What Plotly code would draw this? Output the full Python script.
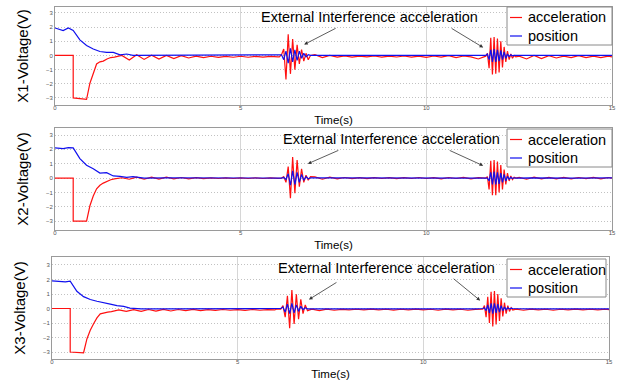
import plotly.graph_objects as go

# ---------------- time segments (s) ----------------
t_acc_start = [0, 0.49, 0.49, 0.85, 0.94, 1.03, 1.12, 1.21, 1.3, 1.4, 1.5, 1.6]
t_quiet1 = [1.8, 2.0, 2.2, 2.4, 2.6, 2.8, 3.0, 3.2, 3.4, 3.6, 3.8, 4.0, 4.2, 4.4, 4.6,
            4.8, 5.0, 5.2, 5.4, 5.6, 5.8, 6.0]
t_burst1 = [6.04, 6.10, 6.16, 6.22, 6.28, 6.34, 6.40, 6.46, 6.52, 6.58, 6.64, 6.70,
            6.76, 6.82, 6.88]
t_quiet2 = [7.0, 7.2, 7.4, 7.6, 7.8, 8.0, 8.2, 8.4, 8.6, 8.8, 9.0, 9.2, 9.4, 9.6, 9.8,
            10.0, 10.2, 10.4, 10.6, 10.8, 11.0, 11.2, 11.4]
t_burst2 = [11.60, 11.645, 11.69, 11.735, 11.78, 11.825, 11.87, 11.915, 11.96, 12.005,
            12.05, 12.095, 12.14, 12.185, 12.23, 12.275, 12.32, 12.365, 12.41]
t_quiet3 = [12.5, 12.7, 12.9, 13.1, 13.3, 13.5, 13.7, 13.9, 14.1, 14.3, 14.5, 14.7, 14.9, 15.0]
t_pos_start = [0, 0.22, 0.36, 0.49, 0.67, 0.85, 1.03, 1.21, 1.39, 1.57, 1.75, 1.93, 2.1, 2.4]
t_pos_quiet1 = [3.0, 4.0, 5.0, 6.0]
t_pos_quiet2 = [7.2, 8.5, 10.0, 11.4]
t_pos_quiet3 = [12.8, 14.0, 15.0]

# ---------------- X1 ----------------
acc1_start = [0, 0, -3.0, -3.1, -1.96, -1.2, -0.6, -0.45, -0.4, -0.25, -0.15, -0.12]
acc1_q1 = [0.0, -0.33, 0.05, -0.28, 0.02, -0.25, 0.0, -0.22, -0.02, -0.18, -0.05, -0.15,
           -0.06, -0.14, -0.07, -0.13, -0.06, -0.13, -0.07, -0.12, -0.06, -0.1]
acc1_b1 = [-0.1, 0.05, 0.45, -1.7, 1.5, -1.3, 1.15, -1.0, 0.75, -0.6, 0.42, -0.4, 0.15, -0.3, 0.0]
acc1_q2 = [0.05, -0.15, 0.0, -0.12, -0.03, -0.12, -0.05, -0.1, -0.04, -0.12, -0.05, -0.11,
           -0.04, -0.12, -0.05, -0.14, -0.04, -0.12, -0.02, -0.16, -0.04, -0.1, -0.25]
acc1_b2 = [-0.05, 0.15, -0.9, 1.25, -1.35, 1.3, -1.3, 1.2, -1.2, 1.0, -0.85, 0.6, -0.45, 0.3,
           -0.3, 0.1, -0.2, 0.0, -0.1]
acc1_q3 = [-0.05, -0.25, 0.0, -0.22, -0.02, -0.18, -0.05, -0.15, -0.02, -0.15, -0.05, -0.15,
           -0.05, -0.1]
pos1_start = [1.94, 1.75, 1.94, 1.77, 1.1, 0.7, 0.45, 0.28, 0.21, 0.21, 0.04, 0.1, 0.0, 0.0]
pos1_q1 = [0.01, 0.0, 0.01, 0.0]
pos1_b1 = [0.0, 0.05, -0.3, 0.3, -0.55, 0.5, -0.45, 0.4, -0.35, 0.3, -0.2, 0.15, -0.1, 0.05, 0.0]
pos1_q2 = [0.01, 0.0, 0.01, 0.0]
pos1_b2 = [0.0, 0.1, -0.3, 0.4, -0.45, 0.45, -0.45, 0.4, -0.4, 0.35, -0.3, 0.25, -0.2, 0.1,
           -0.08, 0.05, -0.03, 0.0, 0.0]
pos1_q3 = [0.01, 0.0, 0.0]

# ---------------- X2 ----------------
acc2_start = [0, 0, -3.0, -3.0, -1.93, -1.25, -0.75, -0.5, -0.35, -0.22, -0.12, -0.06]
acc2_q1 = [0.02, -0.08, 0.06, -0.08, 0.07, -0.07, 0.06, -0.06, 0.04, -0.05, 0.03, -0.04,
           0.02, -0.03, 0.02, -0.03, 0.02, -0.03, 0.02, -0.03, 0.02, -0.02]
acc2_b1 = [0.0, 0.0, 0.1, -0.3, 0.8, -1.4, 1.47, -1.05, 1.25, -0.6, 0.65, -0.3, 0.2, -0.15, 0.1]
acc2_q2 = [0.08, -0.08, 0.07, -0.06, 0.04, -0.04, 0.03, -0.04, 0.03, -0.03, 0.03, -0.04,
           0.03, -0.03, 0.04, -0.03, 0.03, -0.05, 0.04, -0.03, 0.05, -0.06, 0.03]
acc2_b2 = [0.0, 0.1, -0.8, 1.2, -1.2, 1.25, -1.2, 1.15, -1.0, 0.9, -0.8, 0.6, -0.45, 0.35,
           -0.2, 0.15, -0.1, 0.05, 0.0]
acc2_q3 = [0.05, -0.08, 0.06, -0.06, 0.05, -0.05, 0.05, -0.05, 0.04, -0.04, 0.05, -0.05,
           0.04, 0.0]
pos2_start = [2.1, 2.05, 2.12, 2.1, 1.36, 0.9, 0.65, 0.35, 0.38, 0.15, 0.12, 0.05, 0.1, 0.0]
pos2_q1 = [0.02, 0.0, 0.02, 0.0]
pos2_b1 = [0.0, 0.0, 0.05, -0.1, 0.3, -0.5, 0.5, -0.45, 0.4, -0.3, 0.25, -0.15, 0.1, -0.05, 0.02]
pos2_q2 = [0.02, 0.0, 0.02, 0.0]
pos2_b2 = [0.0, 0.0, -0.2, 0.4, -0.45, 0.45, -0.45, 0.4, -0.4, 0.35, -0.3, 0.25, -0.2, 0.12,
           -0.08, 0.05, -0.03, 0.02, 0.0]
pos2_q3 = [0.02, 0.0, 0.02]

# ---------------- X3 ----------------
acc3_start = [0, 0, -3.0, -3.05, -2.1, -1.5, -1.05, -0.65, -0.37, -0.3, -0.25, -0.22]
acc3_q1 = [-0.1, -0.2, -0.08, -0.2, -0.07, -0.18, -0.06, -0.17, -0.07, -0.15, -0.06, -0.14,
           -0.08, -0.13, -0.07, -0.12, -0.08, -0.13, -0.07, -0.12, -0.08, -0.1]
acc3_b1 = [-0.05, -0.05, -0.05, 0.2, -0.6, 0.87, -1.35, 1.28, -1.07, 0.98, -0.73, 0.64,
           -0.35, 0.25, -0.15]
acc3_q2 = [-0.05, -0.15, -0.05, -0.12, -0.06, -0.1, -0.05, -0.1, -0.04, -0.1, -0.05, -0.11,
           -0.05, -0.1, -0.04, -0.1, -0.05, -0.12, -0.04, -0.1, -0.05, -0.12, -0.06]
acc3_b2 = [-0.05, 0.2, -0.6, 0.8, -1.0, 1.15, -1.24, 1.2, -1.1, 1.0, -0.85, 0.7, -0.55, 0.4,
           -0.35, 0.2, -0.2, 0.05, -0.1]
acc3_q3 = [-0.05, -0.12, -0.04, -0.1, -0.05, -0.12, -0.05, -0.1, -0.04, -0.1, -0.05, -0.1,
           -0.05, -0.08]
pos3_start = [1.9, 1.85, 1.83, 1.88, 1.19, 0.82, 0.62, 0.5, 0.38, 0.3, 0.2, 0.15, 0.03, -0.02]
pos3_q1 = [-0.02, -0.03, -0.02, -0.03]
pos3_b1 = [-0.03, -0.03, 0.0, 0.1, -0.25, 0.3, -0.35, 0.35, -0.3, 0.25, -0.2, 0.15, -0.08,
           0.05, -0.03]
pos3_q2 = [-0.02, -0.03, -0.02, -0.03]
pos3_b2 = [0.0, 0.05, -0.15, 0.25, -0.3, 0.35, -0.35, 0.35, -0.3, 0.3, -0.25, 0.2, -0.15, 0.1,
           -0.08, 0.05, -0.03, 0.02, 0.0]
pos3_q3 = [-0.02, -0.03, -0.02]

y_ticks = [-3, -2, -1, 0, 1, 2, 3]
x_ticks = [0, 5, 10, 15]
series_names = ["acceleration", "position"]
series_colors = ["#ff1010", "#1010ee"]
annotation_text = "External Interference acceleration"

# ---------------- assemble ----------------
t_acc = t_acc_start + t_quiet1 + t_burst1 + t_quiet2 + t_burst2 + t_quiet3
t_pos = t_pos_start + t_pos_quiet1 + t_burst1 + t_pos_quiet2 + t_burst2 + t_pos_quiet3

acc = [
    acc1_start + acc1_q1 + acc1_b1 + acc1_q2 + acc1_b2 + acc1_q3,
    acc2_start + acc2_q1 + acc2_b1 + acc2_q2 + acc2_b2 + acc2_q3,
    acc3_start + acc3_q1 + acc3_b1 + acc3_q2 + acc3_b2 + acc3_q3,
]
pos = [
    pos1_start + pos1_q1 + pos1_b1 + pos1_q2 + pos1_b2 + pos1_q3,
    pos2_start + pos2_q1 + pos2_b1 + pos2_q2 + pos2_b2 + pos2_q3,
    pos3_start + pos3_q1 + pos3_b1 + pos3_q2 + pos3_b2 + pos3_q3,
]
for a in acc:
    assert len(a) == len(t_acc), (len(a), len(t_acc))
for p in pos:
    assert len(p) == len(t_pos), (len(p), len(t_pos))

W, H = 619, 381
FONT = "Liberation Sans, Arial, sans-serif"
# plot-area boxes in pixels: (left, right, top, bottom)
boxes = [(55, 612, 7, 105), (55, 612, 128, 230), (52, 609, 257, 359)]
yranges = [[-3.5, 3.42], [-3.62, 3.49], [-3.48, 3.55]]
# legend boxes in pixels: (left, right, top, bottom)
legend_boxes = [(507, 612, 7, 45), (507, 612, 129, 167), (507, 606, 259, 297)]
text_pos = [(369, 17), (391, 139), (387, 268)]
arrows = [
    [(6.71, 0.77, 33, -17), (11.53, 0.56, -33, -20)],
    [(6.81, 1.0, 32, -14), (11.53, 0.86, -35, -16)],
    [(6.92, 0.62, 29, -18), (11.53, 0.55, -28, -23)],
]


def px(x):
    return x / W


def py(y):
    return 1 - y / H


fig = go.Figure()
layout = dict(
    width=W, height=H, autosize=False, showlegend=False,
    margin=dict(l=0, r=0, t=0, b=0, pad=0),
    paper_bgcolor="white", plot_bgcolor="white",
    font=dict(family=FONT, color="black"),
    annotations=[], shapes=[],
)

for i in range(3):
    sfx = "" if i == 0 else str(i + 1)
    xa, ya = "x" + sfx, "y" + sfx
    for vals, tt, name, col in ((acc[i], t_acc, series_names[0], series_colors[0]),
                                (pos[i], t_pos, series_names[1], series_colors[1])):
        fig.add_trace(go.Scatter(x=tt, y=vals, mode="lines", name=name,
                                 line=dict(color=col, width=1.2),
                                 xaxis=xa, yaxis=ya))
    l, r, t, b = boxes[i]
    layout["xaxis" + sfx] = dict(
        domain=[px(l), px(r)], anchor=ya, range=[0, 15], tickvals=x_ticks,
        tickfont=dict(size=6, color="#555"), ticks="", ticklabelstandoff=-3,
        showgrid=True, gridcolor="#d6d6d6", gridwidth=1,
        zeroline=False, showline=True, linecolor="#9a9a9a", linewidth=1, mirror=True,
        title=dict(text="Time(s)", font=dict(size=11.5, color="black"), standoff=5),
        automargin=False,
    )
    layout["yaxis" + sfx] = dict(
        domain=[py(b), py(t)], anchor=xa, range=yranges[i], tickvals=y_ticks,
        tickfont=dict(size=6, color="#555"), ticks="",
        showgrid=True, gridcolor="#c2c2c2", gridwidth=1, griddash="1px,2px",
        zeroline=False, showline=True, linecolor="#9a9a9a", linewidth=1, mirror=True,
        title=dict(text=f"X{i+1}-Voltage(V)", font=dict(size=15, color="black"), standoff=13),
        automargin=False,
    )
    # legend box
    lL, lR, lT, lB = legend_boxes[i]
    layout["shapes"].append(dict(type="rect", xref="paper", yref="paper",
                                 x0=px(lL), x1=px(lR), y0=py(lB), y1=py(lT),
                                 fillcolor="white", line=dict(color="#8a8a8a", width=1),
                                 layer="above"))
    for k in range(2):
        yy = lT + 10.5 + 18.5 * k
        layout["shapes"].append(dict(type="line", xref="paper", yref="paper",
                                     x0=px(lL + 3), x1=px(lL + 15), y0=py(yy), y1=py(yy),
                                     line=dict(color=series_colors[k], width=1.2),
                                     layer="above"))
        layout["annotations"].append(dict(
            text=series_names[k], xref="paper", yref="paper", x=px(lL + 19), y=py(yy),
            xanchor="left", yanchor="middle", showarrow=False,
            font=dict(size=14.5, color="black", family=FONT)))
    tx, ty = text_pos[i]
    layout["annotations"].append(dict(
        text=annotation_text, xref="paper", yref="paper", x=px(tx), y=py(ty),
        xanchor="center", yanchor="middle", showarrow=False,
        font=dict(size=14.5, color="black", family=FONT)))
    for hx, hy, ax, ay in arrows[i]:
        layout["annotations"].append(dict(
            text="", xref=xa, yref=ya, x=hx, y=hy, ax=ax, ay=ay,
            showarrow=True, arrowhead=2, arrowsize=0.9, arrowwidth=0.8,
            arrowcolor="#333333", standoff=0, startstandoff=0))

fig.update_layout(**layout)
fig.write_html("out.html", config={"displayModeBar": False},
               post_script="document.body.style.margin='0';")
